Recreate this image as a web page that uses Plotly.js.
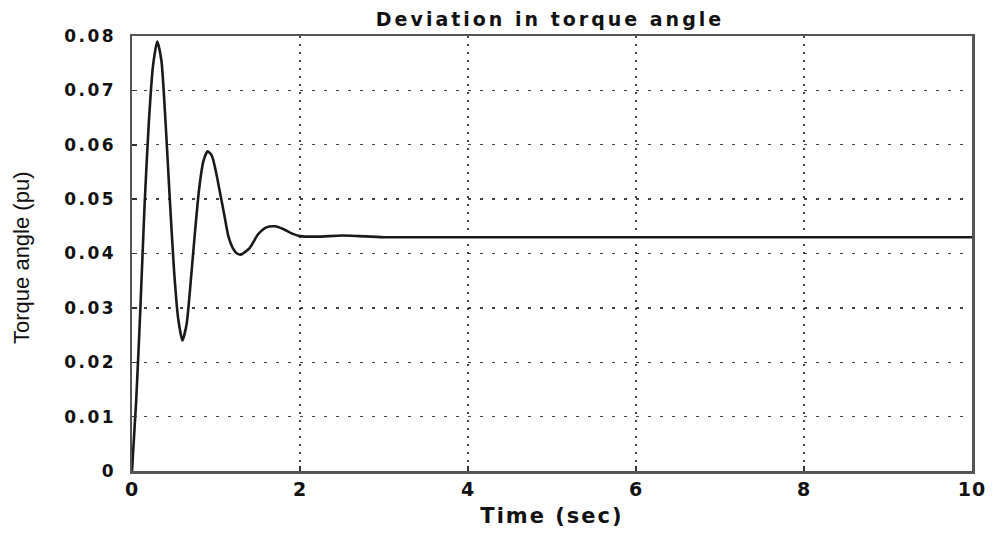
<!DOCTYPE html>
<html><head><meta charset="utf-8">
<script src="https://cdn.plot.ly/plotly-3.0.1.min.js"></script>
<style>
html,body{margin:0;padding:0;background:#fff;}
#chart{width:993px;height:533px;}
#chart .ytick text{letter-spacing:2.5px;}
#chart .xtick text{letter-spacing:1px;}
#chart text.gtitle{letter-spacing:3px;}
#chart text.xtitle{letter-spacing:2px;}
</style>
</head><body><div id="chart"></div>
<script>
const timeSec = [0,0.05,0.1,0.15,0.2,0.25,0.3,0.35,0.4,0.45,0.5,0.55,0.6,0.65,0.7,0.75,0.8,0.85,0.9,0.95,1.0,1.05,1.1,1.15,1.2,1.25,1.3,1.4,1.5,1.6,1.7,1.8,1.9,2.0,2.2,2.5,2.7,3.0,10];
const torqueAngle = [0,0.013,0.030,0.049,0.064,0.0745,0.079,0.0755,0.064,0.050,0.037,0.028,0.024,0.027,0.035,0.044,0.052,0.057,0.0588,0.058,0.055,0.051,0.047,0.043,0.041,0.040,0.0398,0.041,0.0435,0.0448,0.0450,0.0445,0.0437,0.0432,0.0431,0.0433,0.0432,0.0430,0.0430];
const xTicks = [0,2,4,6,8,10];
const yTicks = [0,0.01,0.02,0.03,0.04,0.05,0.06,0.07,0.08];
const yTickText = ['0','0.01','0.02','0.03','0.04','0.05','0.06','0.07','0.08'];

const boldFont = 'DejaVu Sans, Liberation Sans, Arial, sans-serif';
Plotly.newPlot('chart', [{
  x: timeSec, y: torqueAngle, type:'scatter', mode:'lines',
  line:{color:'#1a1a1a', width:2.6, shape:'spline', smoothing:0.6}, hoverinfo:'skip'
}], {
  width:993, height:533,
  margin:{l:132, r:21, t:36, b:62},
  paper_bgcolor:'#fff', plot_bgcolor:'#fff',
  showlegend:false,
  title:{text:'<b>Deviation in torque angle</b>', x:550/993, xanchor:'center', y:0.977, yanchor:'top',
    font:{family:boldFont, size:19, color:'#111'}},
  annotations:[{text:'Torque angle (pu)', xref:'paper', yref:'paper', x:-0.1308, y:0.49,
    xanchor:'center', yanchor:'middle', textangle:-90, showarrow:false,
    font:{family:'Liberation Sans, Arial, sans-serif', size:22, color:'#111'}}],
  xaxis:{range:[0,10], tickvals:xTicks, ticktext:xTicks.map(s=>'<b>'+s+'</b>'),
    showgrid:true, gridcolor:'#444', griddash:'2px,6px', gridwidth:1.4,
    zeroline:false, showline:true, linecolor:'#555', linewidth:2.5, mirror:true,
    ticks:'inside', ticklen:5, tickcolor:'#333', tickwidth:1.5,
    tickfont:{family:boldFont, size:19, color:'#111'}, ticklabelstandoff:0,
    title:{text:'<b>Time (sec)</b>', standoff:9, font:{family:boldFont, size:21, color:'#111'}}},
  yaxis:{range:[0,0.08], tickvals:yTicks, ticktext:yTickText.map(s=>'<b>'+s+'</b>'),
    showgrid:true, gridcolor:'#444', griddash:'3px,9px', gridwidth:1.4,
    zeroline:false, showline:true, linecolor:'#555', linewidth:2.5, mirror:true,
    ticks:'inside', ticklen:5, tickcolor:'#333', tickwidth:1.5,
    tickfont:{family:boldFont, size:17, color:'#111'}, ticklabelstandoff:10}
}, {staticPlot:true, displayModeBar:false});
</script></body></html>
